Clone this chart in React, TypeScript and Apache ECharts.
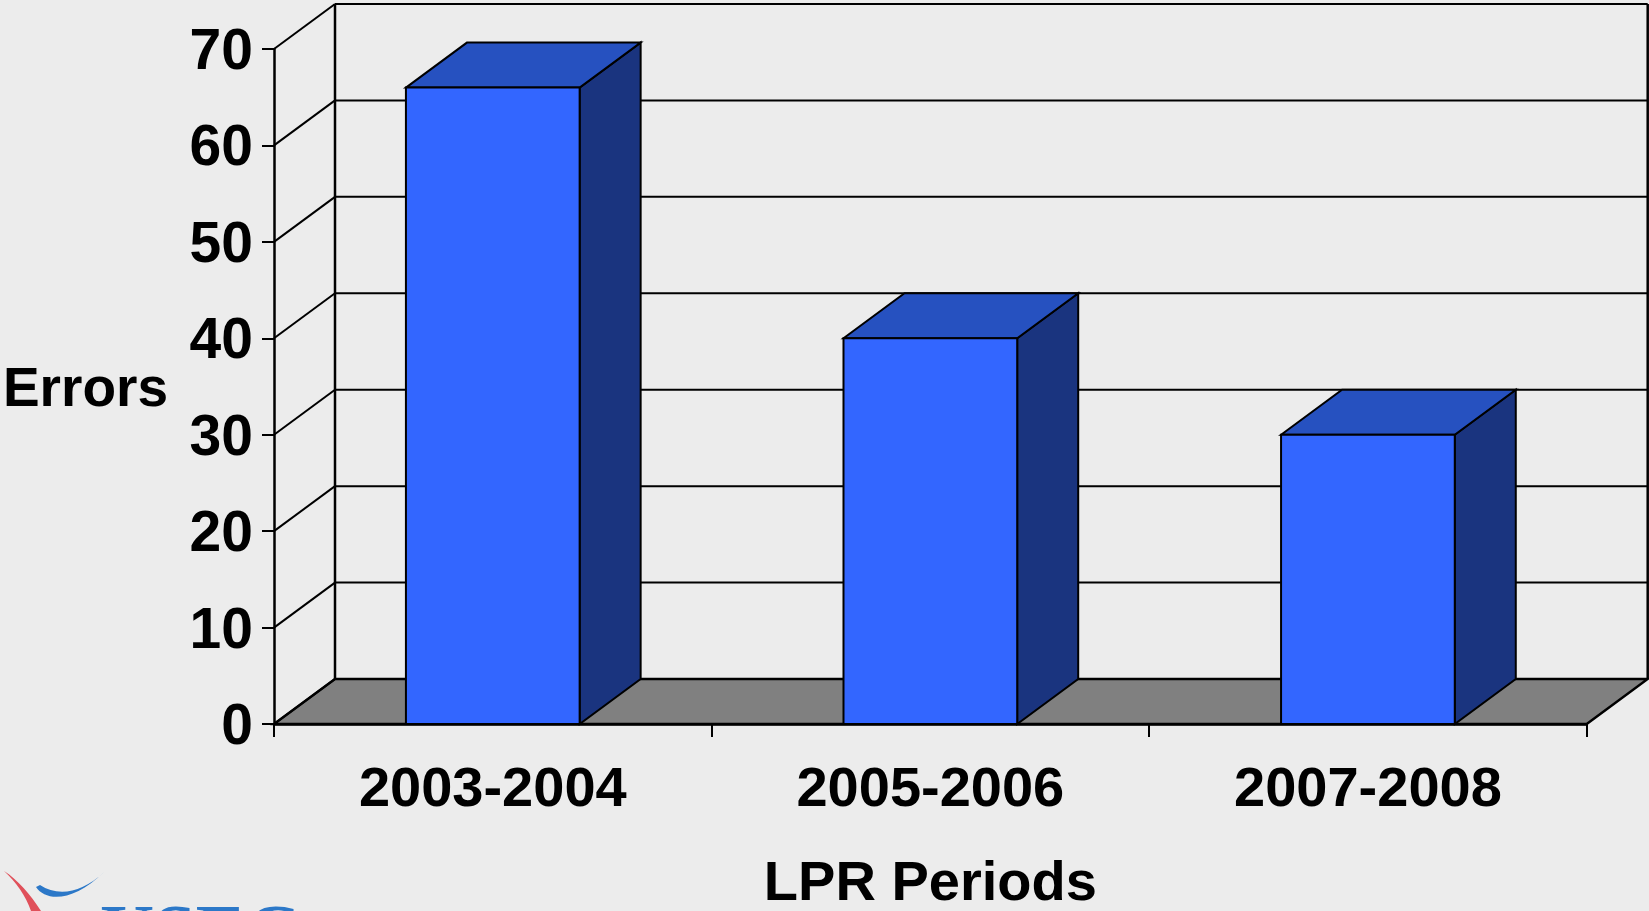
import React, { useEffect, useRef } from "react";
import * as echarts from "echarts";

const categories = ["2003-2004", "2005-2006", "2007-2008"];
const errors = [66, 40, 30];
const yTicks = [0, 10, 20, 30, 40, 50, 60, 70];
const xAxisTitle = "LPR Periods";
const yAxisTitle = "Errors";

const DX = 61;
const DY = 45;

echarts.graphic.registerShape(
  "usecRed",
  echarts.graphic.extendPath(
    "M 4 871 C 16 882 26 896 31 911 L 41 911 C 30 894 18 880 4 871 Z",
    {}
  )
);
echarts.graphic.registerShape(
  "usecBlue",
  echarts.graphic.extendPath(
    "M 36 887 C 46 902 74 902 104 872 C 82 893 58 897 40 885 Z",
    {}
  )
);

export default function App() {
  const ref = useRef<HTMLDivElement>(null);

  useEffect(() => {
    const chart = echarts.init(ref.current!, null, { renderer: "svg" });
    const black = "#000000";
    const font = "'Liberation Sans', Arial, sans-serif";

    const option: any = {
      animation: false,
      backgroundColor: "#ECECEC",
      grid: {
        left: 274,
        top: 49,
        width: 1312.7,
        height: 675,
        containLabel: false,
        outerBoundsMode: "none",
      },
      xAxis: {
        type: "category",
        data: categories,
        z: 10,
        axisLine: { show: true, lineStyle: { color: black, width: 2.5 } },
        axisTick: { show: true, length: 13, lineStyle: { color: black, width: 2 } },
        axisLabel: {
          color: black,
          fontSize: 56,
          fontWeight: "bold",
          fontFamily: font,
          margin: 34,
        },
        name: xAxisTitle,
        nameLocation: "middle",
        nameGap: 134,
        nameTextStyle: {
          color: black,
          fontSize: 56,
          fontWeight: "bold",
          fontFamily: font,
          lineHeight: 44,
        },
        splitLine: { show: false },
      },
      yAxis: {
        type: "value",
        min: 0,
        max: 70,
        interval: 10,
        z: 10,
        axisLine: { show: true, lineStyle: { color: black, width: 2.5 } },
        axisTick: { show: true, length: 12, lineStyle: { color: black, width: 2 } },
        axisLabel: {
          color: black,
          fontSize: 57,
          fontWeight: "bold",
          fontFamily: font,
          margin: 21,
        },
        splitLine: { show: false },
        name: yAxisTitle,
        nameLocation: "middle",
        nameRotate: 0,
        nameGap: 106,
        nameTextStyle: { color: black, fontSize: 55, fontWeight: "bold", fontFamily: font, align: "right" },
      },
      series: [
        {
          type: "custom",
          name: "floor",
          z: 1,
          silent: true,
          data: [[0, 0, 70]],
          encode: { x: 0, y: 1 },
          renderItem: (params: any, api: any) => {
            const cs = params.coordSys;
            const y0 = api.coord([0, api.value(1)])[1];
            const yT = api.coord([0, api.value(2)])[1];
            const x0 = cs.x;
            const x1 = cs.x + cs.width;
            return {
              type: "group",
              children: [
                {
                  type: "polygon",
                  shape: {
                    points: [
                      [x0, y0],
                      [x0 + DX, y0 - DY],
                      [x1 + DX, y0 - DY],
                      [x1, y0],
                    ],
                  },
                  style: { fill: "#808080", stroke: black, lineWidth: 2.5 },
                },
                {
                  type: "line",
                  shape: { x1: x0 + DX, y1: yT - DY, x2: x0 + DX, y2: y0 - DY },
                  style: { stroke: black, lineWidth: 2.5 },
                },
                {
                  type: "line",
                  shape: { x1: x1 + DX, y1: yT - DY, x2: x1 + DX, y2: y0 - DY },
                  style: { stroke: black, lineWidth: 2.5 },
                },
              ],
            };
          },
        },
        {
          type: "custom",
          name: "walls",
          z: 2,
          silent: true,
          data: yTicks.map((v) => [0, v]),
          encode: { x: 0, y: 1 },
          renderItem: (params: any, api: any) => {
            const cs = params.coordSys;
            const y = api.coord([0, api.value(1)])[1];
            const x0 = cs.x;
            const x1 = cs.x + cs.width;
            return {
              type: "group",
              children: [
                {
                  type: "line",
                  shape: { x1: x0, y1: y, x2: x0 + DX, y2: y - DY },
                  style: { stroke: black, lineWidth: 2 },
                },
                {
                  type: "line",
                  shape: { x1: x0 + DX, y1: y - DY, x2: x1 + DX, y2: y - DY },
                  style: { stroke: black, lineWidth: 2 },
                },
              ],
            };
          },
        },
        {
          type: "custom",
          name: "Errors",
          z: 3,
          data: errors.map((v, i) => [i, v]),
          encode: { x: 0, y: 1 },
          renderItem: (params: any, api: any) => {
            const top = api.coord([api.value(0), api.value(1)]);
            const base = api.coord([api.value(0), 0]);
            const bw = api.size([1, 0])[0] * 0.397;
            const xl = top[0] - bw / 2;
            const xr = top[0] + bw / 2;
            const yT = top[1];
            const yB = base[1];
            const st = { stroke: black, lineWidth: 2, lineJoin: "miter" };
            return {
              type: "group",
              children: [
                {
                  type: "polygon",
                  shape: {
                    points: [
                      [xr, yT],
                      [xr + DX, yT - DY],
                      [xr + DX, yB - DY],
                      [xr, yB],
                    ],
                  },
                  style: { ...st, fill: "#1A347F" },
                },
                {
                  type: "polygon",
                  shape: {
                    points: [
                      [xl, yT],
                      [xl + DX, yT - DY],
                      [xr + DX, yT - DY],
                      [xr, yT],
                    ],
                  },
                  style: { ...st, fill: "#2651C0" },
                },
                {
                  type: "rect",
                  shape: { x: xl, y: yT, width: bw, height: yB - yT },
                  style: { ...st, fill: "#3366FF" },
                },
              ],
            };
          },
        },
      ],
      graphic: [
        {
          type: "usecRed",
          x: 0,
          y: 0,
          silent: true,
          style: { fill: "#E0505A" },
        },
        {
          type: "usecBlue",
          x: 0,
          y: 0,
          silent: true,
          style: { fill: "#2C78C8" },
        },
        {
          type: "text",
          x: 100,
          y: 893,
          silent: true,
          style: {
            text: "USEC",
            fill: "#2C78C8",
            font: "bold 75px 'Liberation Serif', serif",
            textVerticalAlign: "top",
          },
        },
      ],
    };

    chart.setOption(option);
    return () => chart.dispose();
  }, []);

  return (
    <div
      ref={ref}
      style={{ position: "fixed", left: 0, top: 0, width: 1649, height: 911 }}
    />
  );
}
